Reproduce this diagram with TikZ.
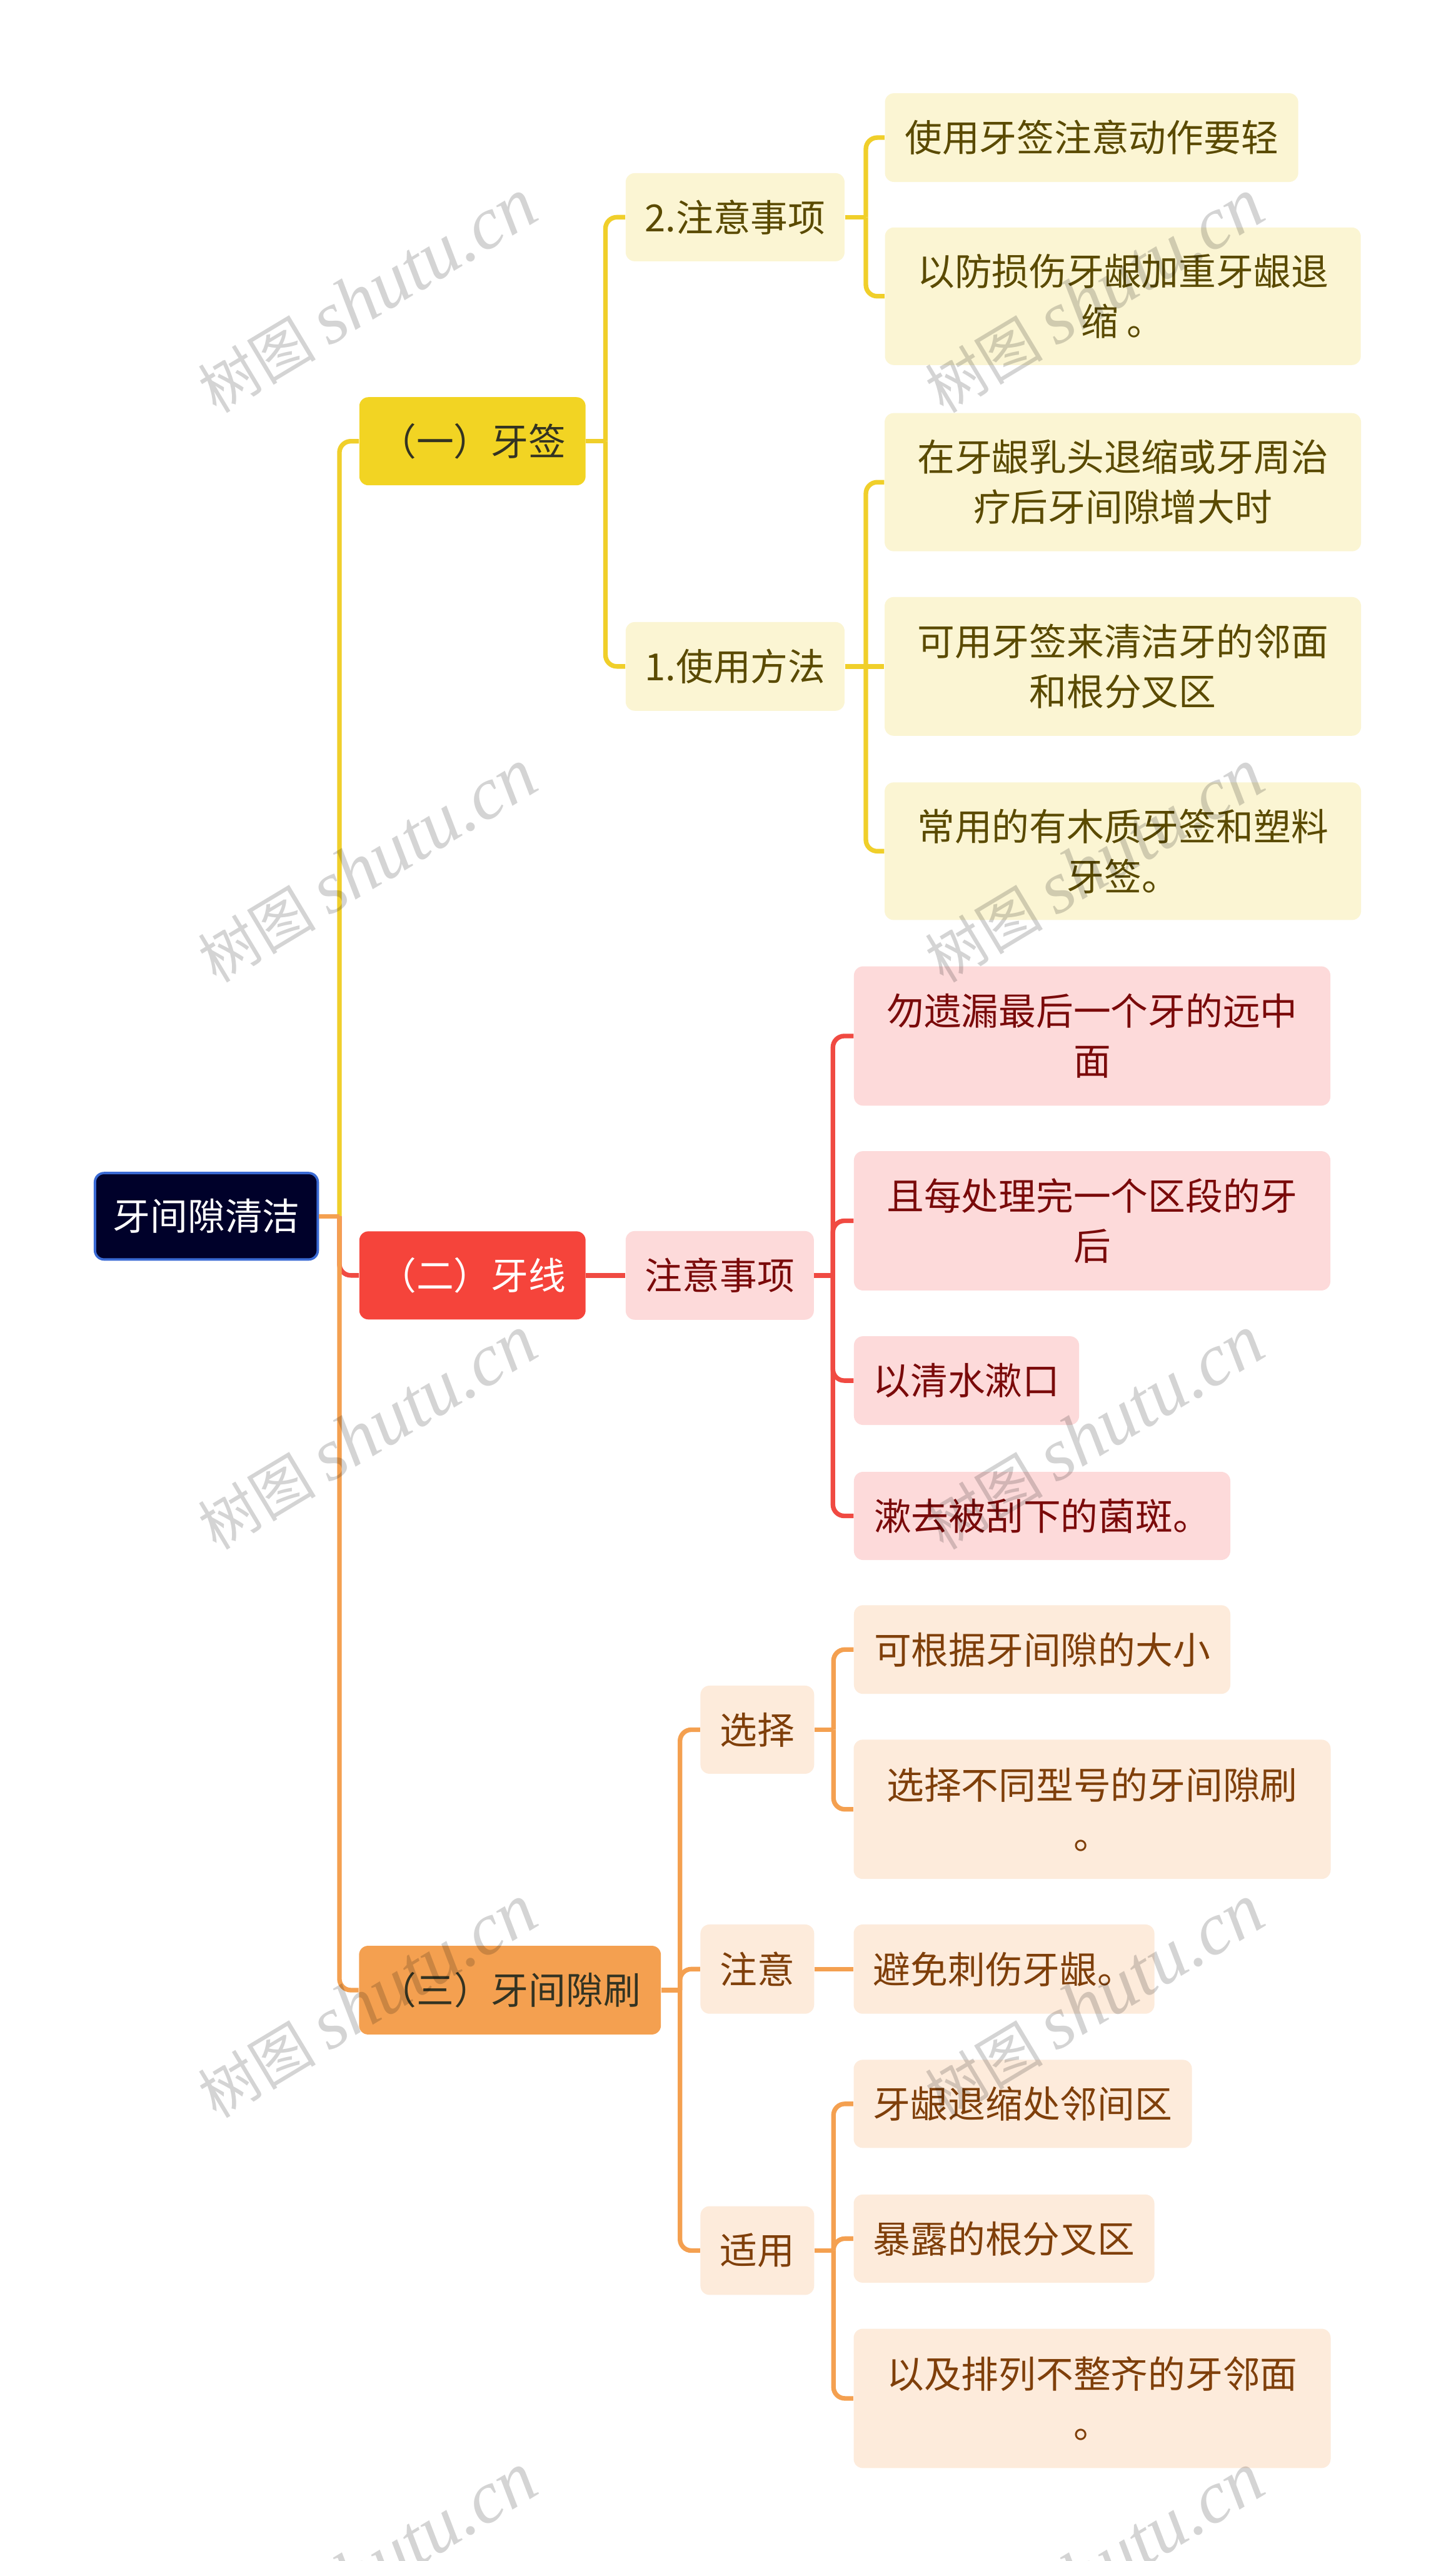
\documentclass[tikz,border=0pt]{standalone}
\usepackage{fontspec}
\setmainfont{Noto Sans CJK SC}
\newfontfamily\wmlatin{Liberation Serif}
\usetikzlibrary{calc}
\definecolor{yLa}{HTML}{F2D423}
\definecolor{yLb}{HTML}{FBF5D3}
\definecolor{yTx}{HTML}{5A4A00}
\definecolor{yLn}{HTML}{F0CF2A}
\definecolor{rLa}{HTML}{F5443B}
\definecolor{rLb}{HTML}{FDDADA}
\definecolor{rTx}{HTML}{7A0A0A}
\definecolor{rLn}{HTML}{F04A42}
\definecolor{oLa}{HTML}{F4A050}
\definecolor{oLb}{HTML}{FDEBDB}
\definecolor{oTx}{HTML}{7F3F0A}
\definecolor{oLn}{HTML}{F4A050}
\definecolor{rootF}{HTML}{00012A}
\definecolor{rootB}{HTML}{3A6AD4}
\definecolor{darkTx}{HTML}{333322}
\tikzset{
  box/.style={rounded corners=0.16cm, inner sep=0pt, align=center,
    font=\fontsize{18.7pt}{25pt}\selectfont},
  ybox/.style={box, fill=yLb, text=yTx},
  rbox/.style={box, fill=rLb, text=rTx},
  obox/.style={box, fill=oLb, text=oTx},
  conn/.style={line width=2.3pt, rounded corners=0.2cm},
  wm/.style={text=black, opacity=0.17, rotate=31, inner sep=0pt,
    font=\fontsize{29.5pt}{29.5pt}\selectfont}
}
\begin{document}
\begin{tikzpicture}
\useasboundingbox (0,0) rectangle (25.6,-45.04);
\clip (0,0) rectangle (25.6,-45.04);
\fill[white] (0,0) rectangle (25.6,-45.04);

% root and level 1
\node[box, fill=rootF, draw=rootB, line width=1.2pt, text=white, minimum width=3.92cm, minimum height=1.52cm] (root) at (3.63,-21.39) {牙间隙清洁};
\node[box, fill=yLa, text=darkTx, minimum width=3.98cm, minimum height=1.55cm] (t1) at (8.31,-7.76) {（一）牙签};
\node[box, fill=rLa, text=white, minimum width=3.98cm, minimum height=1.55cm] (t2) at (8.31,-22.43) {（二）牙线};
\node[box, fill=oLa, text=darkTx, minimum width=5.31cm, minimum height=1.56cm] (t3) at (8.97,-35.00) {（三）牙间隙刷};

% yellow branch
\node[ybox, minimum width=3.85cm, minimum height=1.55cm] (a2) at (12.93,-3.82) {2.注意事项};
\node[ybox, minimum width=3.85cm, minimum height=1.56cm] (a1) at (12.93,-11.72) {1.使用方法};
\node[ybox, minimum width=7.27cm, minimum height=1.56cm] (y1) at (19.20,-2.42) {使用牙签注意动作要轻};
\node[ybox, minimum width=8.37cm, minimum height=2.42cm] (y2) at (19.75,-5.21) {以防损伤牙龈加重牙龈退\\缩 。};
\node[ybox, minimum width=8.38cm, minimum height=2.43cm] (y3) at (19.75,-8.48) {在牙龈乳头退缩或牙周治\\疗后牙间隙增大时};
\node[ybox, minimum width=8.38cm, minimum height=2.44cm] (y4) at (19.75,-11.72) {可用牙签来清洁牙的邻面\\和根分叉区};
\node[ybox, minimum width=8.38cm, minimum height=2.42cm] (y5) at (19.75,-14.97) {常用的有木质牙签和塑料\\牙签。};

% red branch
\node[rbox, minimum width=3.31cm, minimum height=1.56cm] (rn) at (12.66,-22.43) {注意事项};
\node[rbox, minimum width=8.38cm, minimum height=2.45cm] (r1) at (19.21,-18.22) {勿遗漏最后一个牙的远中\\面};
\node[rbox, minimum width=8.38cm, minimum height=2.45cm] (r2) at (19.21,-21.47) {且每处理完一个区段的牙\\后};
\node[rbox, minimum width=3.96cm, minimum height=1.56cm] (r3) at (17.00,-24.28) {以清水漱口};
\node[rbox, minimum width=6.62cm, minimum height=1.55cm] (r4) at (18.33,-26.66) {漱去被刮下的菌斑。};

% orange branch
\node[obox, minimum width=2.00cm, minimum height=1.55cm] (os) at (13.32,-30.42) {选择};
\node[obox, minimum width=2.00cm, minimum height=1.57cm] (oa) at (13.32,-34.63) {注意};
\node[obox, minimum width=2.00cm, minimum height=1.56cm] (op) at (13.32,-39.58) {适用};
\node[obox, minimum width=6.62cm, minimum height=1.56cm] (s1) at (18.33,-29.01) {可根据牙间隙的大小};
\node[obox, minimum width=8.39cm, minimum height=2.45cm] (s2) at (19.21,-31.82) {选择不同型号的牙间隙刷\\。};
\node[obox, minimum width=5.29cm, minimum height=1.57cm] (n1) at (17.66,-34.63) {避免刺伤牙龈。};
\node[obox, minimum width=5.95cm, minimum height=1.55cm] (p1) at (17.99,-37.00) {牙龈退缩处邻间区};
\node[obox, minimum width=5.29cm, minimum height=1.55cm] (p2) at (17.66,-39.37) {暴露的根分叉区};
\node[obox, minimum width=8.39cm, minimum height=2.45cm] (p3) at (19.21,-42.18) {以及排列不整齐的牙邻面\\。};

% junctions
\coordinate (jR) at (5.97,-21.39);
\coordinate (j1) at (10.65,-7.76);
\coordinate (j2) at (15.23,-3.82);
\coordinate (j3) at (15.23,-11.72);
\coordinate (j4) at (14.65,-22.43);
\coordinate (j5) at (11.96,-35.00);
\coordinate (j6) at (14.66,-30.42);
\coordinate (j7) at (14.66,-39.58);

% root connectors
\draw[conn, yLn] (jR) |- (t1.west);
\draw[conn, rLn] (jR) |- (t2.west);
\draw[conn, oLn] (jR) |- (t3.west);
\draw[conn, oLn] (root.east) -- (jR);

% yellow connectors
\draw[conn, yLn] (t1.east) -- (j1);
\draw[conn, yLn] (j1) |- (a2.west);
\draw[conn, yLn] (j1) |- (a1.west);
\draw[conn, yLn] (a2.east) -- (j2);
\draw[conn, yLn] (j2) |- (y1.west);
\draw[conn, yLn] (j2) |- (y2.west);
\draw[conn, yLn] (a1.east) -- (j3);
\draw[conn, yLn] (j3) |- (y3.west);
\draw[conn, yLn] (j3) -- (y4.west);
\draw[conn, yLn] (j3) |- (y5.west);

% red connectors
\draw[conn, rLn] (t2.east) -- (rn.west);
\draw[conn, rLn] (rn.east) -- (j4);
\draw[conn, rLn] (j4) |- (r1.west);
\draw[conn, rLn] (j4) |- (r2.west);
\draw[conn, rLn] (j4) |- (r3.west);
\draw[conn, rLn] (j4) |- (r4.west);

% orange connectors
\draw[conn, oLn] (t3.east) -- (j5);
\draw[conn, oLn] (j5) |- (os.west);
\draw[conn, oLn] (j5) |- (oa.west);
\draw[conn, oLn] (j5) |- (op.west);
\draw[conn, oLn] (os.east) -- (j6);
\draw[conn, oLn] (j6) |- (s1.west);
\draw[conn, oLn] (j6) |- (s2.west);
\draw[conn, oLn] (oa.east) -- (n1.west);
\draw[conn, oLn] (op.east) -- (j7);
\draw[conn, oLn] (j7) |- (p1.west);
\draw[conn, oLn] (j7) |- (p2.west);
\draw[conn, oLn] (j7) |- (p3.west);

% watermarks
\foreach \i/\yy in {1/-5.21, 2/-15.23, 3/-25.20, 4/-35.20, 5/-45.20} {
  \node[wm] (wmL\i) at (6.46,\yy) {树图 {\wmlatin\itshape\fontsize{37pt}{37pt}\selectfont shutu.cn}};
  \node[wm] (wmR\i) at (19.25,\yy) {树图 {\wmlatin\itshape\fontsize{37pt}{37pt}\selectfont shutu.cn}};
}
\end{tikzpicture}
\end{document}
